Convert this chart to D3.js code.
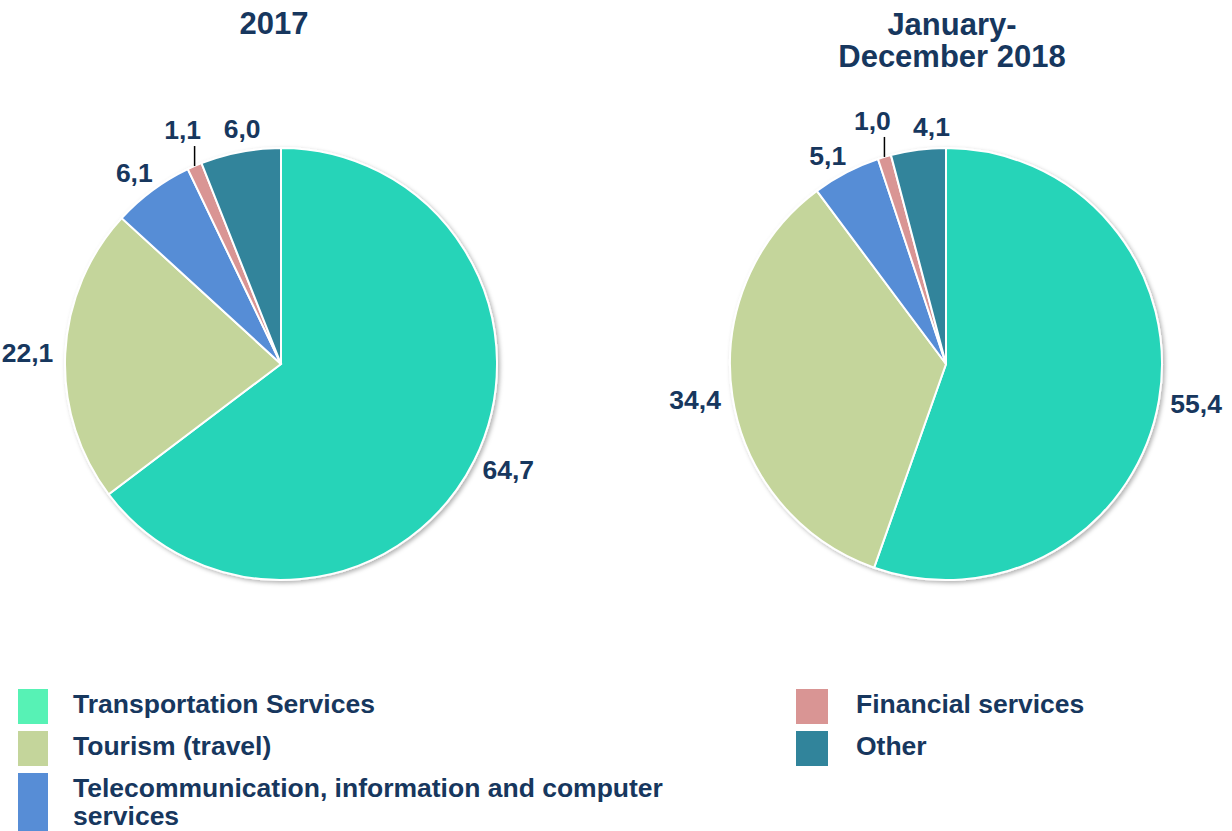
<!DOCTYPE html>
<html>
<head>
<meta charset="utf-8">
<script src="https://cdn.jsdelivr.net/npm/d3@7"></script>
<style>
  body { margin: 0; background: #fff; }
  svg text { font-family: "Liberation Sans", Arial, sans-serif; font-weight: bold; fill: #17375E; }
</style>
</head>
<body>
<svg id="chart" width="1232" height="831"></svg>
<script>
// ---------- Data ----------
const categories = ['Transportation Services', 'Tourism (travel)', 'Telecommunication, information and computer services', 'Financial services', 'Other'];
const values2017 = [64.7, 22.1, 6.1, 1.1, 6.0];
const values2018 = [55.4, 34.4, 5.1, 1.0, 4.1];
const pieTitles = [['2017'], ['January-', 'December 2018']];
const sliceColors = ['#26D4B8', '#C4D59B', '#578DD6', '#D99594', '#31849B'];
const legendColors = ['#57F2B5', '#C4D59B', '#578DD6', '#D99594', '#31849B'];

const svg = d3.select('#chart');
const radius = 216;
const fmt = d3.formatLocale({ decimal: ',', thousands: ' ', grouping: [3], currency: ['', ''] }).format('.1f');

// drop shadow like the office chart
const defs = svg.append('defs');
defs.append('filter').attr('id', 'shadow')
    .attr('x', '-10%').attr('y', '-10%').attr('width', '120%').attr('height', '120%')
  .append('feDropShadow')
    .attr('dx', 2).attr('dy', 2).attr('stdDeviation', 2)
    .attr('flood-color', '#000').attr('flood-opacity', 0.3);

const pie = d3.pie().sort(null).value(d => d);
const arc = d3.arc().innerRadius(0).outerRadius(radius);

// ---------- Label helpers ----------
function labelPos(theta, w) {
    const ux = Math.sin(theta), uy = -Math.cos(theta);
    const r0 = radius + 8;
    return [ux * r0 + ux * (w / 2 + 4), uy * r0 + uy * 14];
}

function overlaps(a, b) {
    return Math.abs(a.x - b.x) < (a.w + b.w) / 2 + 22 && Math.abs(a.y - b.y) < 34;
}

function drawPie(values, cx, cy, titleLines, titleX, titleY) {
    const g = svg.append('g').attr('transform', `translate(${cx},${cy})`);
    const arcs = pie(values);

    g.append('g').attr('filter', 'url(#shadow)')
      .selectAll('path')
      .data(arcs)
      .join('path')
        .attr('d', arc)
        .attr('fill', (d, i) => sliceColors[i])
        .attr('stroke', '#fff')
        .attr('stroke-width', 2);

    // labels: place outside, small slices get a leader line
    const labels = arcs.map(d => {
        const theta = (d.startAngle + d.endAngle) / 2;
        const t = g.append('text')
            .attr('font-size', 26.5)
            .attr('text-anchor', 'middle')
            .attr('dy', '0.35em')
            .text(fmt(d.value));
        const w = t.node().getComputedTextLength();
        const lab = { t, w, theta, fixed: d.value < 2 };
        if (lab.fixed) {
            const px = Math.sin(theta) * radius, py = -Math.cos(theta) * radius;
            g.append('line')
                .attr('x1', px).attr('y1', py)
                .attr('x2', px).attr('y2', py - 20)
                .attr('stroke', '#000').attr('stroke-width', 1.5);
            lab.x = px - 12; lab.y = py - 36;
        } else {
            [lab.x, lab.y] = labelPos(theta, w);
        }
        return lab;
    });

    // push overlapping neighbours apart along the circle
    for (let it = 0; it < 300; it++) {
        let moved = false;
        for (let i = 0; i < labels.length; i++) {
            const a = labels[i], b = labels[(i + 1) % labels.length];
            if (a === b || !overlaps(a, b)) continue;
            moved = true;
            if (!a.fixed) { a.theta -= 0.01; [a.x, a.y] = labelPos(a.theta, a.w); }
            if (!b.fixed) { b.theta += 0.01; [b.x, b.y] = labelPos(b.theta, b.w); }
        }
        if (!moved) break;
    }
    labels.forEach(l => l.t.attr('x', l.x).attr('y', l.y));

    const title = svg.append('text')
        .attr('x', titleX).attr('y', titleY)
        .attr('text-anchor', 'middle')
        .attr('font-size', 31);
    titleLines.forEach((line, i) => {
        title.append('tspan').attr('x', titleX).attr('dy', i === 0 ? 0 : 32).text(line);
    });
}

drawPie(values2017, 281, 364, pieTitles[0], 274, 34);
drawPie(values2018, 946, 364, pieTitles[1], 952, 35);

// ---------- Legend ----------
const legendCols = [{ x: 18, w: 30, tx: 73 }, { x: 796, w: 32, tx: 856 }];
const legendItems = [
    { i: 0, col: 0, y: 689, h: 35, lines: ['Transportation Services'] },
    { i: 1, col: 0, y: 731, h: 35, lines: ['Tourism (travel)'] },
    { i: 2, col: 0, y: 773, h: 58, lines: ['Telecommunication, information and computer', 'services'] },
    { i: 3, col: 1, y: 689, h: 35, lines: ['Financial services'] },
    { i: 4, col: 1, y: 731, h: 35, lines: ['Other'] }
];

const legend = svg.append('g');
legendItems.forEach(item => {
    const c = legendCols[item.col];
    legend.append('rect')
        .attr('x', c.x).attr('y', item.y)
        .attr('width', c.w).attr('height', item.h)
        .attr('fill', legendColors[item.i]);
    const t = legend.append('text')
        .attr('x', c.tx).attr('y', item.y + 24)
        .attr('font-size', 26.5);
    item.lines.forEach((line, k) => {
        t.append('tspan').attr('x', c.tx).attr('dy', k === 0 ? 0 : 28).text(line);
    });
});
</script>
</body>
</html>
